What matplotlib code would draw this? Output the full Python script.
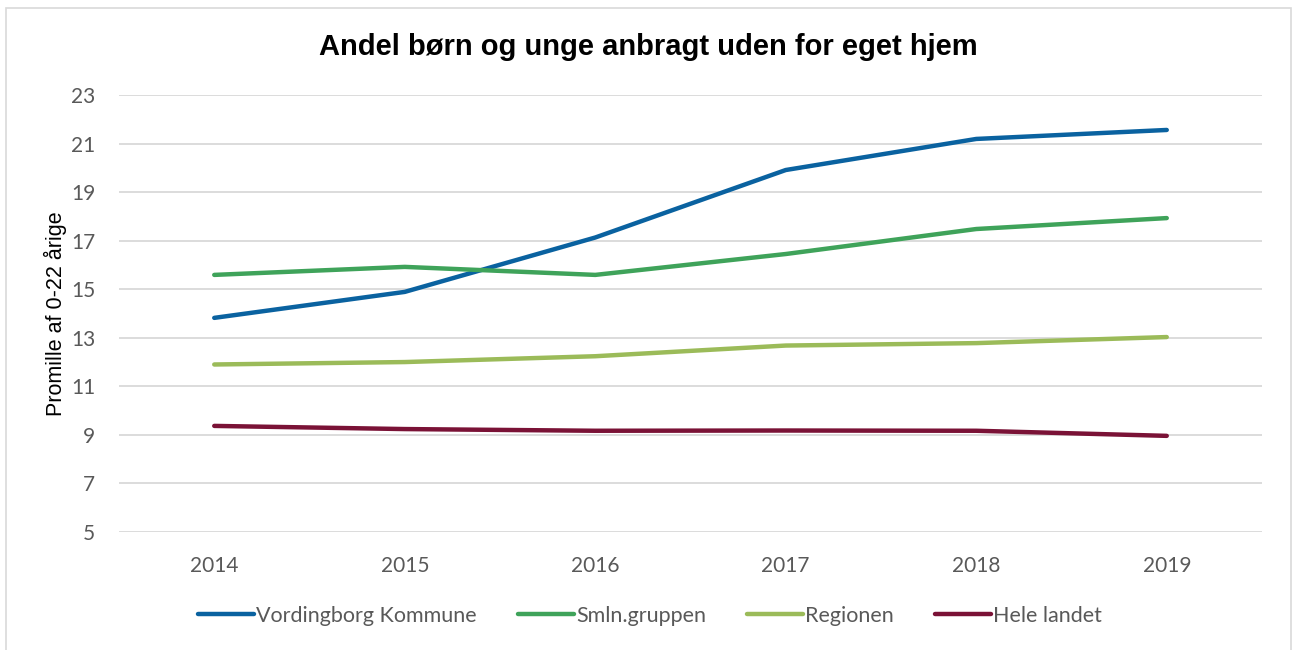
import numpy as np
import matplotlib.pyplot as plt
from matplotlib.patches import Rectangle

years = ['2014', '2015', '2016', '2017', '2018', '2019']
vordingborg = [13.82, 14.89, 17.13, 19.91, 21.19, 21.56]
smln = [15.59, 15.92, 15.59, 16.45, 17.48, 17.93]
regionen = [11.9, 12.0, 12.24, 12.68, 12.78, 13.03]
hele_landet = [9.37, 9.24, 9.17, 9.18, 9.17, 8.96]

names = ['Vordingborg Kommune', 'Smln.gruppen', 'Regionen', 'Hele landet']
colors = ['#0a62a0', '#3fa35a', '#9bbb59', '#7a1236']
series = [vordingborg, smln, regionen, hele_landet]

tick_font = ['Lato', 'DejaVu Sans']

fig = plt.figure(figsize=(12.92, 6.5), dpi=100)
ax = fig.add_axes([119/1292, 1-532/650, (1262-119)/1292, (532-95)/650])

x = np.arange(len(years))
lines = []
for vals, name, c in zip(series, names, colors):
    ln, = ax.plot(x, vals, color=c, lw=3.2, solid_capstyle='round', label=name, zorder=3)
    lines.append(ln)

ax.set_xlim(-0.5, len(years) - 0.5)
ax.set_ylim(5, 23)
ax.set_yticks(range(5, 24, 2))
ax.set_xticks(x)
ax.set_xticklabels(years)
ax.grid(axis='y', color='#d9d9d9', lw=1.3, zorder=0)
for s in ax.spines.values():
    s.set_visible(False)
ax.tick_params(length=0, colors='#595959', labelsize=15)
ax.tick_params(axis='y', pad=17)
ax.tick_params(axis='x', pad=17)
for lab in ax.get_xticklabels() + ax.get_yticklabels():
    lab.set_family(tick_font)

ax.set_ylabel('Promille af 0-22 årige', fontsize=15.5, family='Liberation Sans', color='black')
ax.yaxis.set_label_coords(-0.0455, 0.5)

fig.text(0.5015, 1-47/650, 'Andel børn og unge anbragt uden for eget hjem', ha='center', va='center',
         fontsize=21, fontweight='bold', family='Liberation Sans')

leg = fig.legend(handles=lines, loc='center', bbox_to_anchor=(0.503, 1-616/650), ncol=4, frameon=False,
                 prop={'family': tick_font, 'size': 15.5}, handlelength=2.6, handletextpad=0.1,
                 columnspacing=1.9)
for t in leg.get_texts():
    t.set_color('#595959')

fig.patches.append(Rectangle((6/1292, -0.05), (1291-6)/1292, 1.05-8/650, transform=fig.transFigure,
                             fill=False, edgecolor='#d9d9d9', lw=1.2))

fig.savefig('out.png', dpi=100)
